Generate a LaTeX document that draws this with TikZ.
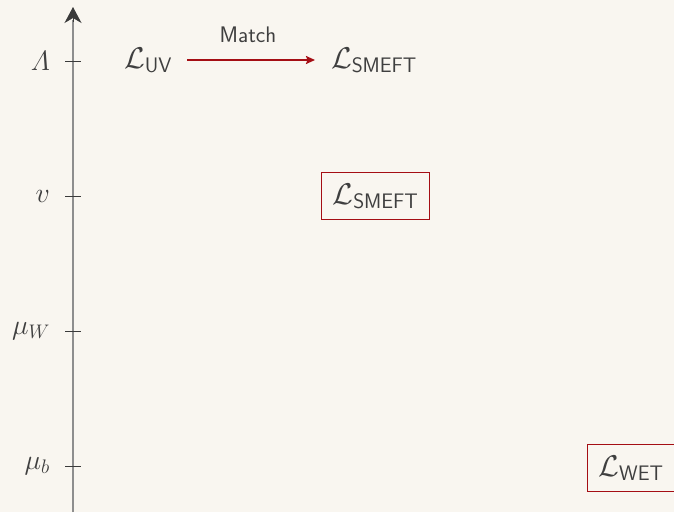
\documentclass[tikz,border=0pt]{standalone}
\usepackage{fix-cm}
\usepackage{amsmath}
\usepackage{fontspec}
\usetikzlibrary{arrows.meta,calc}
\definecolor{bg}{HTML}{F9F6F0}
\definecolor{txt}{HTML}{3F3F3F}
\definecolor{axisgray}{HTML}{8E8E8E}
\definecolor{tipgray}{HTML}{3A3A3A}
\definecolor{boxred}{HTML}{A50E14}
\tikzset{
  lag/.style={text=txt, font=\sffamily\fontsize{30}{36}\selectfont, inner sep=0pt, anchor=base},
  lagbox/.style={lag, inner xsep=11pt, inner ysep=10.5pt},
  frame/.style={draw=boxred, line width=1pt},
  scalelabel/.style={text=txt, font=\fontsize{28}{33}\selectfont, anchor=east, inner sep=0pt},
  tick/.style={draw=tipgray, line width=1pt},
  matcharrow/.style={draw=boxred, line width=1.7pt, -{Stealth[length=9pt,width=8pt,inset=1.5pt]}},
  matchlabel/.style={text=txt, font=\sffamily\fontsize{22.5}{27}\selectfont, inner sep=0pt},
}
\begin{document}
\begin{tikzpicture}[x=1pt,y=-1pt]
\fill[bg] (0,0) rectangle (674,512);
\useasboundingbox (0,0) rectangle (674,512);
% axis
\coordinate (axbot) at (73,512);
\coordinate (axtop) at (73,7);
\draw[axisgray, line width=2pt] (axbot) -- (73,20);
\draw[tipgray, line width=1pt, -{Stealth[length=16pt,width=17pt,inset=5pt]}] (73,22) -- (axtop);
% ticks
\foreach \yy/\nm/\lab in {61/t1/{$\varLambda$}, 196/t2/{$v$}, 331/t3/{$\mu_W$}, 466/t4/{$\mu_b$}}{
  \draw[tick] (65,\yy) -- (81,\yy);
  \node[scalelabel] (\nm) at (50,\yy) {\lab};
}
% nodes
\node[lag] (uv) at (148,68) {$\mathcal{L}_{\text{UV}}$};
\node[lag] (smeft1) at (374,68) {$\mathcal{L}_{\text{SMEFT}}$};
\node[lagbox] (smeft2) at (375.5,204) {$\mathcal{L}_{\text{SMEFT}}$};
\node[lagbox] (wet) at (631,476) {$\mathcal{L}_{\text{WET}}$};
\draw[frame] (smeft2.south west) rectangle (smeft2.north east);
\draw[frame] (wet.south west) rectangle (wet.north east);
\coordinate (ms) at (187,60);
\coordinate (me) at (315,60);
\draw[matcharrow] (ms) -- (me);
\node[matchlabel, above=17pt, xshift=-3pt] (match) at ($(ms)!0.5!(me)$) {Match};
\end{tikzpicture}
\end{document}
